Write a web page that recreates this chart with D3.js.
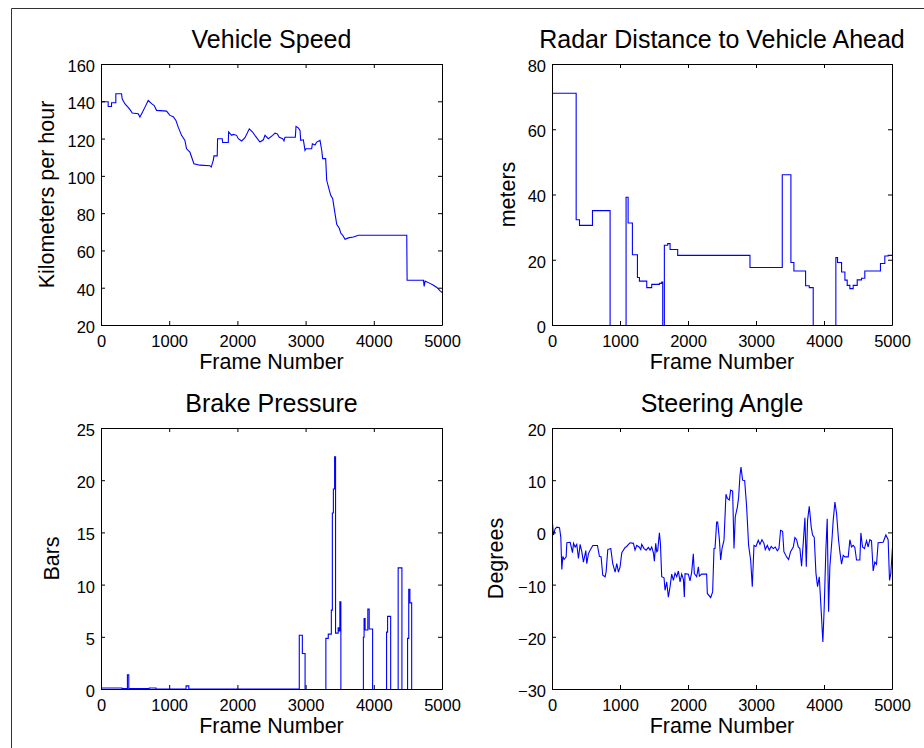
<!DOCTYPE html>
<html>
<head>
<meta charset="utf-8">
<script src="https://cdn.jsdelivr.net/npm/d3@7"></script>
<style>
  body { margin: 0; background: #fff; }
  svg { display: block; font-family: "Liberation Sans", Arial, Helvetica, sans-serif; }
</style>
</head>
<body>
<svg></svg>
<script>
const width = 924;
const height = 748;

// shared x axis
const frameTicks = [0, 1000, 2000, 3000, 4000, 5000];

// Vehicle Speed (km/h)
const speedFrame = [0, 98, 98, 147, 147, 210, 210, 294, 303, 342, 391, 426, 450, 538, 563, 602, 636, 685, 734, 773, 807,
  954, 1003, 1052, 1091, 1125, 1174, 1223, 1247, 1296, 1321, 1355, 1443, 1590, 1609, 1639, 1649, 1697, 1702, 1771, 1776,
  1859, 1864, 1908, 1932, 1981, 2006, 2055, 2104, 2167, 2216, 2260, 2324, 2373, 2397, 2446, 2510, 2544, 2578, 2607, 2656,
  2676, 2691, 2842, 2852, 2886, 2911, 2921, 2960, 2984, 2999, 3082, 3092, 3131, 3155, 3204, 3229, 3243, 3287, 3302, 3341,
  3361, 3390, 3424, 3449, 3488, 3508, 3537, 3571, 3620, 3693, 3767, 4476, 4481, 4721, 4731, 4745, 4794, 4868, 4917, 4965, 5000];
const speedKmh = [140, 140, 137.5, 137.5, 139.5, 139.5, 144.3, 144.3, 141.6, 139, 137, 135.4, 134, 133.6, 131.8, 134.5, 137, 140.7, 139, 138, 135.4,
  135, 132.7, 132, 130, 126.4, 122, 119.3, 114.8, 113, 110.4, 106.8, 106, 105.7, 105, 108.6, 111, 111, 120.2, 120.2, 118.2,
  118.2, 123.8, 122, 122.5, 122, 120.2, 119, 120.7, 125.5, 123.8, 121.4, 118.4, 119.6, 122, 120.2, 122, 123.2, 122.8, 121, 120.2,
  119, 121, 121, 126.8, 126, 124.6, 119.3, 119.6, 113.9, 114.8, 114.8, 117.5, 116.8, 118.4, 119.3, 114, 109.5, 109.5, 97.9, 92.5,
  89.8, 88, 80, 74.3, 72, 69.6, 68.4, 66.2, 67, 67.5, 68.4, 68.4, 44.3, 44.3, 41, 43.8, 43, 41.6, 40.4, 38.6, 37.5];
const speedTicks = [20, 40, 60, 80, 100, 120, 140, 160];

// Radar distance (m), held until the next frame
const radarFrame = [0, 348, 397, 588, 847, 1082, 1112, 1175, 1249, 1278, 1386, 1459, 1572, 1606, 1621, 1645, 1694, 1729, 1841,
  2904, 3379, 3506, 3550, 3722, 3776, 3834, 4167, 4192, 4251, 4300, 4334, 4373, 4422, 4481, 4544, 4593, 4823, 4887, 4936, 5000];
const radarMeters = [71.2, 32.4, 30.7, 35.2, 0, 39.3, 31.4, 21.7, 14.7, 13.6, 11.6, 12.6, 12.9, 13.3, 0, 24.6, 25.1, 23.3, 21.5,
  17.8, 46.2, 19.3, 16.7, 12.2, 11.6, 0, 20.8, 19.3, 16.4, 13.9, 12.3, 11.3, 12.3, 14, 14.5, 16.7, 19, 21.3, 21.5, 21.5];
const radarTicks = [0, 20, 40, 60, 80];

// Brake pressure (bars), held until the next frame
const brakeFrame = [0, 300, 380, 400, 700, 800, 1240, 1280, 2900, 2945, 2985, 3290, 3325, 3370, 3385, 3400, 3418, 3432, 3470,
  3485, 3495, 3510, 3840, 3850, 3865, 3905, 3925, 3975, 4180, 4195, 4240, 4350, 4405, 4488, 4505, 4522, 4548, 5000];
const brakeBars = [0.15, 0.1, 1.4, 0.1, 0.15, 0.05, 0.35, 0.05, 5.2, 3.45, 0, 4.9, 5.3, 7.6, 16.9, 19.2, 22.3, 5.4, 5.9,
  5.6, 8.4, 0, 5.0, 6.8, 5.7, 7.7, 5.8, 0, 5.5, 7.0, 0, 11.65, 0, 4.9, 9.6, 8.3, 0, 0];
const brakeTicks = [0, 5, 10, 15, 20, 25];

// Steering angle (degrees)
const steerFrame = [0, 15, 39, 64, 103, 122, 137, 152, 171, 201, 211, 260, 294, 309, 333, 357, 382, 406, 431, 455, 490, 504,
  529, 553, 593, 661, 690, 715, 739, 774, 788, 813, 857, 886, 921, 945, 970, 994, 1019, 1068, 1092, 1117, 1141, 1190, 1214,
  1239, 1273, 1298, 1312, 1347, 1376, 1410, 1435, 1459, 1484, 1498, 1518, 1533, 1547, 1572, 1587, 1606, 1640, 1655, 1680,
  1704, 1729, 1753, 1778, 1802, 1827, 1851, 1876, 1900, 1925, 1939, 1949, 1998, 2022, 2047, 2071, 2086, 2120, 2145, 2160,
  2194, 2267, 2277, 2326, 2355, 2375, 2390, 2414, 2429, 2453, 2473, 2493, 2522, 2551, 2571, 2600, 2620, 2649, 2669, 2688,
  2718, 2737, 2757, 2772, 2796, 2826, 2855, 2884, 2914, 2938, 2963, 2992, 3026, 3051, 3080, 3110, 3129, 3159, 3188, 3217,
  3247, 3276, 3306, 3330, 3354, 3384, 3403, 3443, 3472, 3501, 3541, 3565, 3590, 3614, 3638, 3663, 3687, 3712, 3732, 3751,
  3776, 3805, 3825, 3849, 3874, 3898, 3923, 3947, 3976, 3996, 4020, 4040, 4060, 4079, 4109, 4128, 4153, 4177, 4207, 4226,
  4251, 4275, 4300, 4349, 4373, 4397, 4422, 4446, 4471, 4520, 4535, 4559, 4588, 4618, 4642, 4667, 4691, 4716, 4740, 4765,
  4789, 4863, 4902, 4936, 4956, 4975, 5000];
const steerDeg = [1.8, -0.4, 0.8, 1.1, 1.0, -0.8, -7.0, -4.5, -5.1, -4.6, -1.9, -1.8, -3.8, -2.0, -2.7, -2.2, -4.9, -2.2, -3.6, -5.6, -3.4, -5.9,
  -4.0, -3.3, -2.4, -2.4, -4.5, -4.6, -8.1, -8.4, -7.5, -3.2, -3.0, -5.9, -7.5, -5.9, -7.5, -6.5, -3.8, -2.8, -2.6, -2.2, -1.9, -2.0, -3.3,
  -2.4, -2.7, -3.2, -2.2, -3.0, -3.3, -2.8, -3.3, -2.7, -3.8, -5.4, -2.0, -3.6, -3.4, 0, -2.0, -8.4, -8.6, -11.0, -9.4,
  -12.3, -10.3, -7.9, -9.1, -7.7, -8.4, -7.3, -9.4, -7.9, -8.9, -12.3, -7.8, -7.9, -9.2, -7.5, -4.0, -7.8, -8.4, -6.5, -8.3,
  -7.9, -7.9, -11.6, -12.4, -11.3, -3.0, -3.0, 2.1, 2.1, -1.1, -5.2, -3.0, -1.4, 7.4, 6.6, 6.3, 8.2, 8.0, -3.0, 3.1,
  4.9, 6.8, 11.0, 12.6, 10.1, 10.0, 5.0, -2.4, -5.2, -10.3, -2.4, -2.6, -1.4, -2.2, -1.3, -2.0, -3.2, -2.4, -3.3, -2.6,
  -3.0, -2.7, -3.4, -3.0, 0.5, 0.3, -3.6, -4.6, -5.1, -3.6, -2.7, -0.9, -1.3, -2.7, -3.0, -6.4, -2.0, 2.9, -6.5, 2.4,
  5.1, 1.1, -0.4, -0.8, -7.7, -10.3, -8.4, -13.9, -20.9, -14.2, -3.3, 2.7, -15.1, -6.5, -1.4, 2.4, 5.9, 3.8, -1.4, -3.6,
  -6.0, -4.3, -4.6, -4.6, -1.3, -2.7, -2.4, -2.8, -5.2, -5.2, 0, -2.7, -3.0, -1.5, -2.7, -1.3, -1.5, -7.3, -5.6, -6.0,
  -1.9, -1.8, -0.4, -1.3, -9.1, -7.8, -2.7];
const steerTicks = [-30, -20, -10, 0, 10, 20];

const svg = d3.select("svg")
  .attr("width", width)
  .attr("height", height);

svg.append("rect")
  .attr("width", width)
  .attr("height", height)
  .attr("fill", "#fff");

// figure frame (left and top edges visible)
svg.append("path")
  .attr("d", `M11.5,${height} V8.5 H${width}`)
  .attr("fill", "none")
  .attr("stroke", "#333")
  .attr("stroke-width", 1);

const panels = [
  { title: "Vehicle Speed", ylabel: "Kilometers per hour", xs: speedFrame, ys: speedKmh,
    domain: [20, 160], ticks: speedTicks, curve: d3.curveLinear, left: 101, right: 442, top: 64, bottom: 325, lgap: 13 },
  { title: "Radar Distance to Vehicle Ahead", ylabel: "meters", xs: radarFrame, ys: radarMeters,
    domain: [0, 80], ticks: radarTicks, curve: d3.curveStepAfter, left: 552, right: 892, top: 64, bottom: 325, lgap: 13 },
  { title: "Brake Pressure", ylabel: "Bars", xs: brakeFrame, ys: brakeBars,
    domain: [0, 25], ticks: brakeTicks, curve: d3.curveStepAfter, left: 101, right: 442, top: 428, bottom: 689, lgap: 18 },
  { title: "Steering Angle", ylabel: "Degrees", xs: steerFrame, ys: steerDeg,
    domain: [-30, 20], ticks: steerTicks, curve: d3.curveLinear, left: 552, right: 892, top: 428, bottom: 689, lgap: 15 }
];

panels.forEach(drawPanel);

function drawPanel(p) {
  const x = d3.scaleLinear().domain([0, 5000]).range([p.left, p.right]);
  const y = d3.scaleLinear().domain(p.domain).range([p.bottom, p.top]);
  const g = svg.append("g");
  const tk = 4;

  // the trace
  const pts = p.xs.map((f, i) => [f, p.ys[i]]);
  g.append("path")
    .datum(pts)
    .attr("fill", "none")
    .attr("stroke", "#0000ff")
    .attr("stroke-width", 1.1)
    .attr("d", d3.line().x(d => x(d[0]) + 0.5).y(d => y(d[1]) + 0.5).curve(p.curve));

  // box with inward ticks, MATLAB style
  g.append("g")
    .attr("transform", `translate(0,${p.bottom})`)
    .call(d3.axisBottom(x).tickValues(frameTicks).tickSize(-tk).tickSizeOuter(0).tickPadding(10.5).tickFormat(d3.format("d")));
  g.append("g")
    .attr("transform", `translate(0,${p.top})`)
    .call(d3.axisTop(x).tickValues(frameTicks).tickSize(-tk).tickSizeOuter(0).tickFormat(""));
  const yAx = g.append("g")
    .attr("transform", `translate(${p.left},0)`)
    .call(d3.axisLeft(y).tickValues(p.ticks).tickSize(-tk).tickSizeOuter(0).tickPadding(6));
  g.append("g")
    .attr("transform", `translate(${p.right},0)`)
    .call(d3.axisRight(y).tickValues(p.ticks).tickSize(-tk).tickSizeOuter(0).tickFormat(""));

  g.selectAll(".domain").attr("stroke", "#000");
  g.selectAll(".tick line").attr("stroke", "#000");
  g.selectAll(".tick text")
    .attr("fill", "#000")
    .style("font-family", "'Liberation Sans', Arial, sans-serif")
    .style("font-size", "16.5px");
  yAx.selectAll(".tick text").attr("dy", "0.45em");

  const cx = (p.left + p.right) / 2;
  const cy = (p.top + p.bottom) / 2;

  g.append("text")
    .attr("x", cx)
    .attr("y", p.top - 16)
    .attr("text-anchor", "middle")
    .style("font-size", "25px")
    .text(p.title);

  g.append("text")
    .attr("x", cx)
    .attr("y", p.bottom + 44)
    .attr("text-anchor", "middle")
    .style("font-size", "21.5px")
    .text("Frame Number");

  const box = yAx.node().getBBox();
  const lx = p.left + box.x - p.lgap;
  g.append("text")
    .attr("transform", `translate(${lx},${cy}) rotate(-90)`)
    .attr("text-anchor", "middle")
    .style("font-size", "21.5px")
    .text(p.ylabel);
}
</script>
</body>
</html>
